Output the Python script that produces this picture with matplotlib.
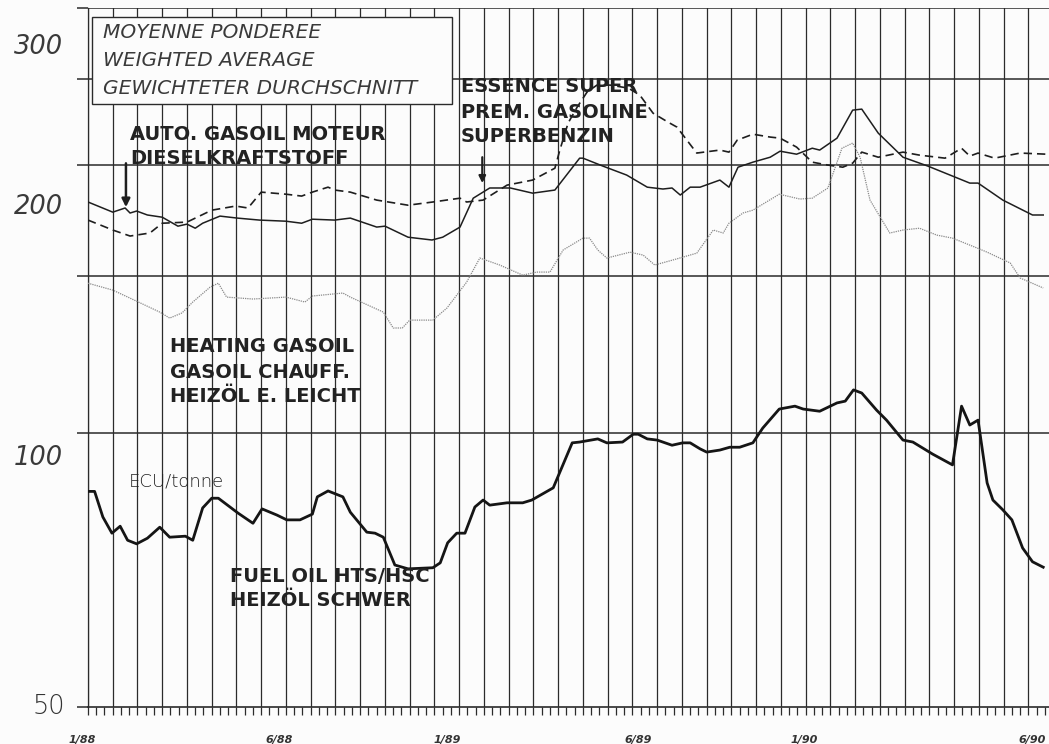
import matplotlib
matplotlib.use("Agg")
import matplotlib.pyplot as plt
from matplotlib.patches import Rectangle
from matplotlib.ticker import MultipleLocator, NullLocator

# x = tick index along the time axis (one small tick per step), values in ECU/tonne
diesel_x = [0, 3.0, 4.5, 5.1, 5.9, 7.2, 9.0, 10.9, 12.0, 13.0, 13.9, 16.0, 18.1, 20.8, 24.0, 25.9,
            27.2, 29.9, 31.8, 35.0, 36.0, 38.8, 41.7, 43.0, 45.1, 46.7, 48.7, 51.2, 53.9, 56.6,
            59.6, 60.0, 62.4, 65.3, 67.8, 69.7, 70.8, 71.8, 73.0, 74.2, 76.6, 77.7, 78.8, 80.6,
            82.7, 83.9, 85.9, 87.8, 88.7, 90.8, 92.7, 93.8, 95.8, 98.8, 101.8, 104.8, 106.9,
            107.9, 110.9, 114.5, 115.8]
diesel_v = [181.7, 177.0, 178.9, 176.6, 177.5, 175.7, 174.7, 170.7, 171.6, 169.8, 172.0, 175.2,
            174.3, 173.4, 172.9, 172.0, 173.8, 173.4, 174.3, 170.3, 170.7, 165.9, 164.7, 165.9,
            170.3, 183.5, 188.4, 188.4, 185.9, 187.4, 203.5, 203.5, 199.4, 194.8, 188.8, 187.9,
            188.4, 185.0, 188.8, 188.8, 192.3, 188.8, 198.8, 201.4, 204.0, 207.2, 205.6, 208.8,
            207.8, 214.3, 230.4, 231.0, 217.1, 204.0, 199.4, 194.3, 190.8, 190.8, 182.6, 175.7,
            175.7]

prem_x = [0, 1.5, 3.0, 5.1, 7.5, 9.0, 12.0, 15.0, 17.9, 19.4, 21.0, 24.0, 25.9, 27.2, 29.1, 29.9,
          31.8, 35.0, 38.8, 41.8, 45.1, 45.9, 47.9, 50.8, 53.9, 56.6, 57.2, 58.2, 59.3, 60.5,
          61.7, 63.3, 65.5, 66.9, 68.5, 70.3, 71.4, 72.6, 73.8, 76.6, 77.7, 78.7, 80.6, 82.7,
          83.9, 85.9, 87.8, 89.7, 91.5, 92.7, 93.8, 95.8, 98.8, 100.8, 103.9, 105.9, 106.9,
          107.9, 109.9, 113.0, 116.2]
prem_v = [173.4, 171.2, 169.0, 166.4, 167.7, 172.0, 172.5, 177.9, 179.8, 178.9, 186.4, 185.4,
          184.5, 186.4, 188.8, 187.4, 186.4, 182.6, 180.2, 181.7, 183.5, 181.7, 182.6, 189.8,
          192.3, 198.3, 207.8, 222.8, 232.2, 241.4, 245.8, 245.8, 243.9, 239.5, 228.6, 223.4,
          220.5, 213.2, 206.2, 207.8, 206.7, 213.2, 216.5, 214.9, 214.3, 209.4, 201.4, 199.9,
          198.8, 200.9, 206.7, 204.0, 206.7, 205.1, 203.5, 208.8, 204.6, 206.2, 203.5, 206.2,
          205.6]

heat_x = [0, 3.0, 5.9, 8.7, 9.9, 11.4, 12.7, 14.8, 15.8, 16.8, 20.0, 24.0, 26.3, 27.2, 30.9, 31.8,
          35.8, 37.0, 38.1, 39.0, 41.8, 43.5, 45.9, 47.5, 49.9, 52.7, 54.4, 56.0, 57.6, 60.0,
          60.8, 61.8, 62.9, 65.7, 67.3, 68.7, 70.9, 73.8, 75.8, 77.0, 77.7, 79.4, 80.6, 83.8,
          86.3, 87.8, 89.7, 91.4, 92.7, 93.6, 94.8, 97.2, 98.8, 100.8, 102.9, 104.8, 107.8,
          109.0, 111.8, 113.0, 115.8]
heat_v = [147.3, 144.7, 140.6, 136.7, 134.6, 136.4, 140.3, 145.8, 147.3, 142.1, 141.4, 142.1,
          140.3, 142.5, 143.6, 142.1, 136.7, 131.2, 131.2, 133.9, 133.9, 138.1, 147.7, 157.2,
          154.4, 150.4, 151.6, 151.6, 160.5, 165.5, 165.5, 160.5, 157.2, 159.6, 158.4, 154.4,
          156.4, 159.2, 169.0, 167.7, 172.0, 176.6, 177.9, 185.4, 183.1, 183.5, 188.4, 208.8,
          211.6, 204.0, 182.6, 167.7, 169.0, 169.8, 166.8, 165.5, 161.3, 159.6, 155.2, 149.3,
          145.5]

fuel_x = [0, 0.8, 1.8, 2.9, 3.9, 4.8, 5.9, 7.2, 8.7, 9.9, 11.8, 12.7, 13.9, 15.0, 15.8, 18.2, 20.0,
          21.1, 22.9, 24.1, 25.7, 27.2, 27.8, 29.1, 30.9, 31.8, 33.8, 34.8, 35.8, 37.2, 38.8,
          41.8, 42.7, 43.6, 44.7, 45.7, 46.9, 47.9, 48.7, 50.8, 52.7, 53.8, 56.4, 58.7, 59.6,
          61.8, 62.9, 64.8, 66.1, 66.7, 67.8, 69.0, 70.8, 72.1, 73.0, 74.2, 75.0, 76.6, 77.8,
          79.0, 80.6, 81.8, 83.8, 85.7, 86.7, 88.7, 90.8, 91.8, 92.8, 93.8, 95.6, 96.8, 98.8,
          100.0, 102.4, 104.8, 105.9, 106.9, 107.9, 109.0, 109.7, 110.9, 112.0, 113.3, 114.5,
          115.8]
fuel_v = [86.0, 86.0, 80.5, 77.2, 78.6, 75.8, 75.1, 76.2, 78.4, 76.4, 76.6, 75.8, 82.4, 84.5, 84.5,
          81.3, 79.2, 82.2, 80.9, 79.9, 79.9, 81.1, 84.8, 86.1, 84.8, 81.5, 77.4, 77.2, 76.4,
          71.1, 70.4, 70.6, 71.5, 75.3, 77.2, 77.2, 82.6, 84.1, 83.0, 83.5, 83.5, 84.1, 86.8,
          97.5, 97.7, 98.5, 97.5, 97.7, 99.7, 99.7, 98.5, 98.2, 96.9, 97.5, 97.5, 96.0, 95.2,
          95.7, 96.4, 96.4, 97.5, 101.3, 106.4, 107.2, 106.4, 105.8, 108.1, 108.6, 111.8, 110.9,
          106.1, 103.4, 98.2, 97.7, 94.7, 92.1, 107.2, 102.1, 103.4, 87.9, 84.1, 82.0, 79.9,
          74.3, 71.7, 70.7]

date_labels = ["1/88", "6/88", "1/89", "6/89", "1/90", "6/90"]
date_pos = [-0.7, 23.2, 43.6, 66.7, 86.8, 114.5]
hlines = [100, 150, 200, 250, 300]
ymin, ymax = 49.26, 300

W, H = 1049, 744
ink = "#2b2b2b"
bg = "#fcfcfc"

fig = plt.figure(figsize=(W / 100, H / 100), dpi=100, facecolor=bg)
ax = fig.add_axes([88 / W, 37 / H, 961 / W, 699 / H])
ax.set_facecolor(bg)
ax.set_yscale("log")
ax.set_ylim(ymin, ymax)
ax.set_xlim(0, 116.5)

ax.set_yticks([ymin] + hlines)
ax.yaxis.set_minor_locator(NullLocator())
ax.tick_params(axis="y", which="major", length=8, width=1.1, color=ink, labelleft=False)
for v in hlines:
    ax.axhline(v, color=ink, lw=1.1, zorder=1)

ax.xaxis.set_major_locator(MultipleLocator(3))
ax.xaxis.set_minor_locator(MultipleLocator(1))
ax.tick_params(axis="x", which="both", length=5.5, width=0.9, color=ink, labelbottom=False)
ax.grid(axis="x", which="major", color=ink, lw=0.9, zorder=1)

for s in ["top", "right"]:
    ax.spines[s].set_visible(False)
ax.spines["left"].set_color(ink)
ax.spines["left"].set_linewidth(0.9)
ax.spines["bottom"].set_color(ink)
ax.spines["bottom"].set_linewidth(1.2)

ax.plot(heat_x, heat_v, color="#8a8a8a", lw=0.9, ls=(0, (1, 0.8)), zorder=3)
ax.plot(diesel_x, diesel_v, color="#1e1e1e", lw=1.1, zorder=4)
ax.plot(prem_x, prem_v, color="#1e1e1e", lw=1.2, ls=(0, (5, 3)), zorder=4)
ax.plot(fuel_x, fuel_v, color="#151515", lw=2.0, zorder=4)

# arrows pointing at the gasoline / diesel curves
arrow = dict(arrowstyle="-|>", lw=1.8, color="#1e1e1e", mutation_scale=12, shrinkA=0, shrinkB=0)
ax.annotate("", xy=(4.6, 179.3), xytext=(4.6, 200.8), arrowprops=arrow)
ax.annotate("", xy=(47.8, 190.8), xytext=(47.8, 204.0), arrowprops=dict(arrow, lw=1.6, mutation_scale=10))


def px(x, y):
    return x / W, 1 - y / H


# y axis labels
for lab, y in [("300", 47), ("200", 207), ("100", 458)]:
    fig.text(*px(63, y), lab, ha="right", va="center", fontsize=18.5, style="italic",
             color="#3a3a3a")
fig.text(*px(65, 707), "50", ha="right", va="center", fontsize=18.5, fontweight="light",
         color="#333333")

# date labels under the axis
for lab, xpos in zip(date_labels, date_pos):
    ax.text(xpos, -0.047, lab, transform=ax.get_xaxis_transform(), ha="center", va="center",
            fontsize=8, fontweight="bold", style="italic", color="#333333", clip_on=False)

# framed note
fig.patches.append(Rectangle(px(92, 104), 360 / W, 87 / H, transform=fig.transFigure,
                             facecolor=bg, edgecolor=ink, lw=1.0, zorder=2))
for txt, y in [("MOYENNE PONDEREE", 33), ("WEIGHTED AVERAGE", 61), ("GEWICHTETER DURCHSCHNITT", 88)]:
    fig.text(*px(103, y), txt, ha="left", va="center", fontsize=14.5, style="italic",
             color="#3a3a3a", zorder=3)

bold = dict(ha="left", va="center", fontsize=14, fontweight="bold", color="#222222", zorder=3)
for txt, x, y in [("AUTO. GASOIL MOTEUR", 130, 135), ("DIESELKRAFTSTOFF", 130, 159),
                  ("ESSENCE SUPER", 461, 87), ("PREM. GASOLINE", 461, 112), ("SUPERBENZIN", 461, 137),
                  ("HEATING GASOIL", 170, 347), ("GASOIL CHAUFF.", 170, 372),
                  ("HEIZÖL E. LEICHT", 170, 397),
                  ("FUEL OIL HTS/HSC", 230, 576), ("HEIZÖL SCHWER", 230, 600)]:
    fig.text(*px(x, y), txt, **bold)

fig.text(*px(129, 482), "ECU/tonne", ha="left", va="center", fontsize=13, fontweight="light",
         color="#222222")

fig.savefig("out.png", dpi=100, facecolor=bg)
